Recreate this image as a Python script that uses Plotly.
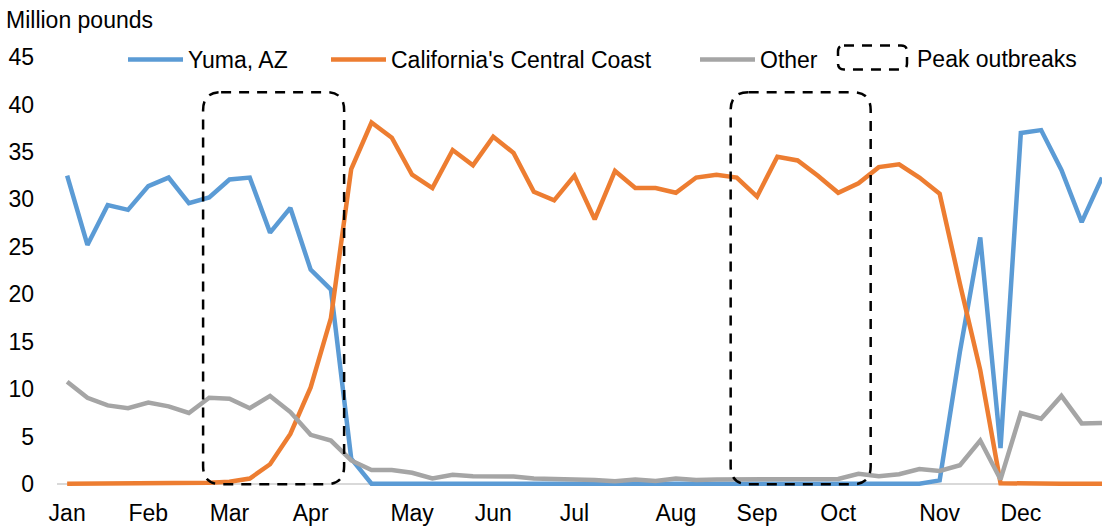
import plotly.graph_objects as go

# ---- data ----
months = ["Jan", "Feb", "Mar", "Apr", "May", "Jun", "Jul", "Aug", "Sep", "Oct", "Nov", "Dec"]
month_week_index = [0, 4, 8, 12, 17, 21, 25, 30, 34, 38, 43, 47]
weeks = list(range(52))

yuma = [32.5, 25.2, 29.4, 28.9, 31.4, 32.3, 29.6, 30.2, 32.1, 32.3,
        26.5, 29.1, 22.6, 20.5, 2.7, 0.05, 0.05, 0.05, 0.05, 0.05,
        0.05, 0.05, 0.05, 0.05, 0.05, 0.05, 0.05, 0.05, 0.05, 0.05,
        0.05, 0.05, 0.05, 0.05, 0.05, 0.05, 0.05, 0.05, 0.05, 0.05,
        0.05, 0.05, 0.05, 0.4, 14.0, 26.0, 3.8, 37.0, 37.3, 33.1,
        27.6, 32.3]
central_coast = [0.05, 0.05, 0.05, 0.05, 0.05, 0.05, 0.05, 0.15, 0.25, 0.6,
                 2.1, 5.3, 10.2, 17.5, 33.2, 38.1, 36.5, 32.6, 31.2, 35.2,
                 33.6, 36.6, 34.9, 30.8, 29.9, 32.5, 27.9, 33.0, 31.2, 31.2,
                 30.7, 32.3, 32.6, 32.3, 30.3, 34.5, 34.1, 32.5, 30.7, 31.7,
                 33.4, 33.7, 32.3, 30.6, 21.1, 12.0, 0.1, 0.05, 0.05, 0.05,
                 0.05, 0.05]
other = [10.8, 9.1, 8.3, 8.0, 8.6, 8.2, 7.5, 9.1, 9.0, 8.0,
         9.3, 7.6, 5.2, 4.6, 2.5, 1.5, 1.5, 1.2, 0.6, 1.0,
         0.85, 0.8, 0.8, 0.6, 0.6, 0.5, 0.45, 0.3, 0.5, 0.35,
         0.6, 0.45, 0.5, 0.5, 0.5, 0.5, 0.55, 0.55, 0.55, 1.1,
         0.85, 1.05, 1.6, 1.4, 2.0, 4.6, 0.5, 7.5, 6.9, 9.3,
         6.4, 6.45]

peak_start = [6.7, 32.7]
peak_end = [13.65, 39.6]
peak_top = 41.3

yticks = list(range(0, 46, 5))

# ---- layout helpers ----
W, H = 1102, 529
ML, MR, MT = 57, 0, 56.5
Y0PX = 487.8
MB = H - Y0PX
PW = W - ML - MR
PH = Y0PX - MT
XR = [-0.5, 51.0]
YR = [-0.4, 45.0]

def px_x(p):
    return (p - ML) / PW

def px_y(p):
    return (Y0PX - p) / PH

FONT = "Liberation Sans, Arial, sans-serif"
FS = 23
DASH = "10px,8px"

def rounded_path(x0, x1, y0, y1, rx, ry):
    return (f"M {x0+rx},{y1} L {x1-rx},{y1} Q {x1},{y1} {x1},{y1-ry} "
            f"L {x1},{y0+ry} Q {x1},{y0} {x1-rx},{y0} L {x0+rx},{y0} "
            f"Q {x0},{y0} {x0},{y0+ry} L {x0},{y1-ry} Q {x0},{y1} {x0+rx},{y1} Z")

fig = go.Figure()
series = [("Yuma, AZ", yuma, "#5B9BD5", "legend"),
          ("California's Central Coast", central_coast, "#ED7D31", "legend2"),
          ("Other", other, "#A5A5A5", "legend3")]
for name, vals, col, lg in series:
    fig.add_trace(go.Scatter(x=weeks, y=vals, mode="lines", name=name,
                             line=dict(color=col, width=4.5), legend=lg))

# rounded dashed boxes (peak outbreak windows)
rx = 18 * (XR[1] - XR[0]) / PW
ry = 18 * (YR[1] - YR[0]) / PH
for x0, x1 in zip(peak_start, peak_end):
    fig.add_shape(type="path", path=rounded_path(x0, x1, 0, peak_top, rx, ry),
                  xref="x", yref="y", layer="above",
                  line=dict(color="black", width=2.5, dash=DASH),
                  fillcolor="rgba(0,0,0,0)")

# legend icon + text for peak outbreaks
ix0, ix1, iy0, iy1 = px_x(838), px_x(907), px_y(69), px_y(45)
irx, iry = 6 / PW, 6 / PH
fig.add_shape(type="path", path=rounded_path(ix0, ix1, iy0, iy1, irx, iry),
              xref="paper", yref="paper", layer="above",
              line=dict(color="black", width=2.5, dash=DASH),
              fillcolor="rgba(0,0,0,0)")
fig.add_annotation(text="Peak outbreaks", xref="paper", yref="paper",
                   x=px_x(915), y=px_y(59), xanchor="left", yanchor="middle",
                   showarrow=False, font=dict(family=FONT, size=FS, color="black"))

legend_common = dict(orientation="h", yanchor="middle", xanchor="left",
                     bgcolor="rgba(0,0,0,0)", borderwidth=0,
                     font=dict(family=FONT, size=FS, color="black"),
                     itemwidth=55, tracegroupgap=0, itemclick=False)
leg_y = px_y(59)
fig.update_layout(
    legend=dict(x=px_x(123), y=leg_y, **legend_common),
    legend2=dict(x=px_x(326), y=leg_y, **legend_common),
    legend3=dict(x=px_x(695), y=leg_y, **legend_common),
)

fig.add_annotation(text="Million pounds", xref="paper", yref="paper",
                   x=px_x(4), y=px_y(19), xanchor="left", yanchor="middle",
                   showarrow=False, font=dict(family=FONT, size=FS, color="black"))

fig.update_layout(
    width=W, height=H,
    margin=dict(l=ML, r=MR, t=MT, b=MB, pad=0),
    paper_bgcolor="white", plot_bgcolor="white",
    font=dict(family=FONT, size=FS, color="black"),
    showlegend=True,
    xaxis=dict(range=XR, tickmode="array", tickvals=month_week_index, ticktext=months,
               showgrid=False, zeroline=False, showline=False, ticks="",
               ticklabelstandoff=9, tickfont=dict(family=FONT, size=FS, color="black"),
               fixedrange=True),
    yaxis=dict(range=YR, tickmode="array", tickvals=yticks,
               showgrid=False, zeroline=True, zerolinecolor="#D9D9D9", zerolinewidth=2,
               showline=False, ticks="", ticklabelstandoff=22,
               tickfont=dict(family=FONT, size=FS, color="black"), fixedrange=True),
)

fig.write_html("out.html", config={"displayModeBar": False},
               post_script="document.body.style.margin='0px';")
